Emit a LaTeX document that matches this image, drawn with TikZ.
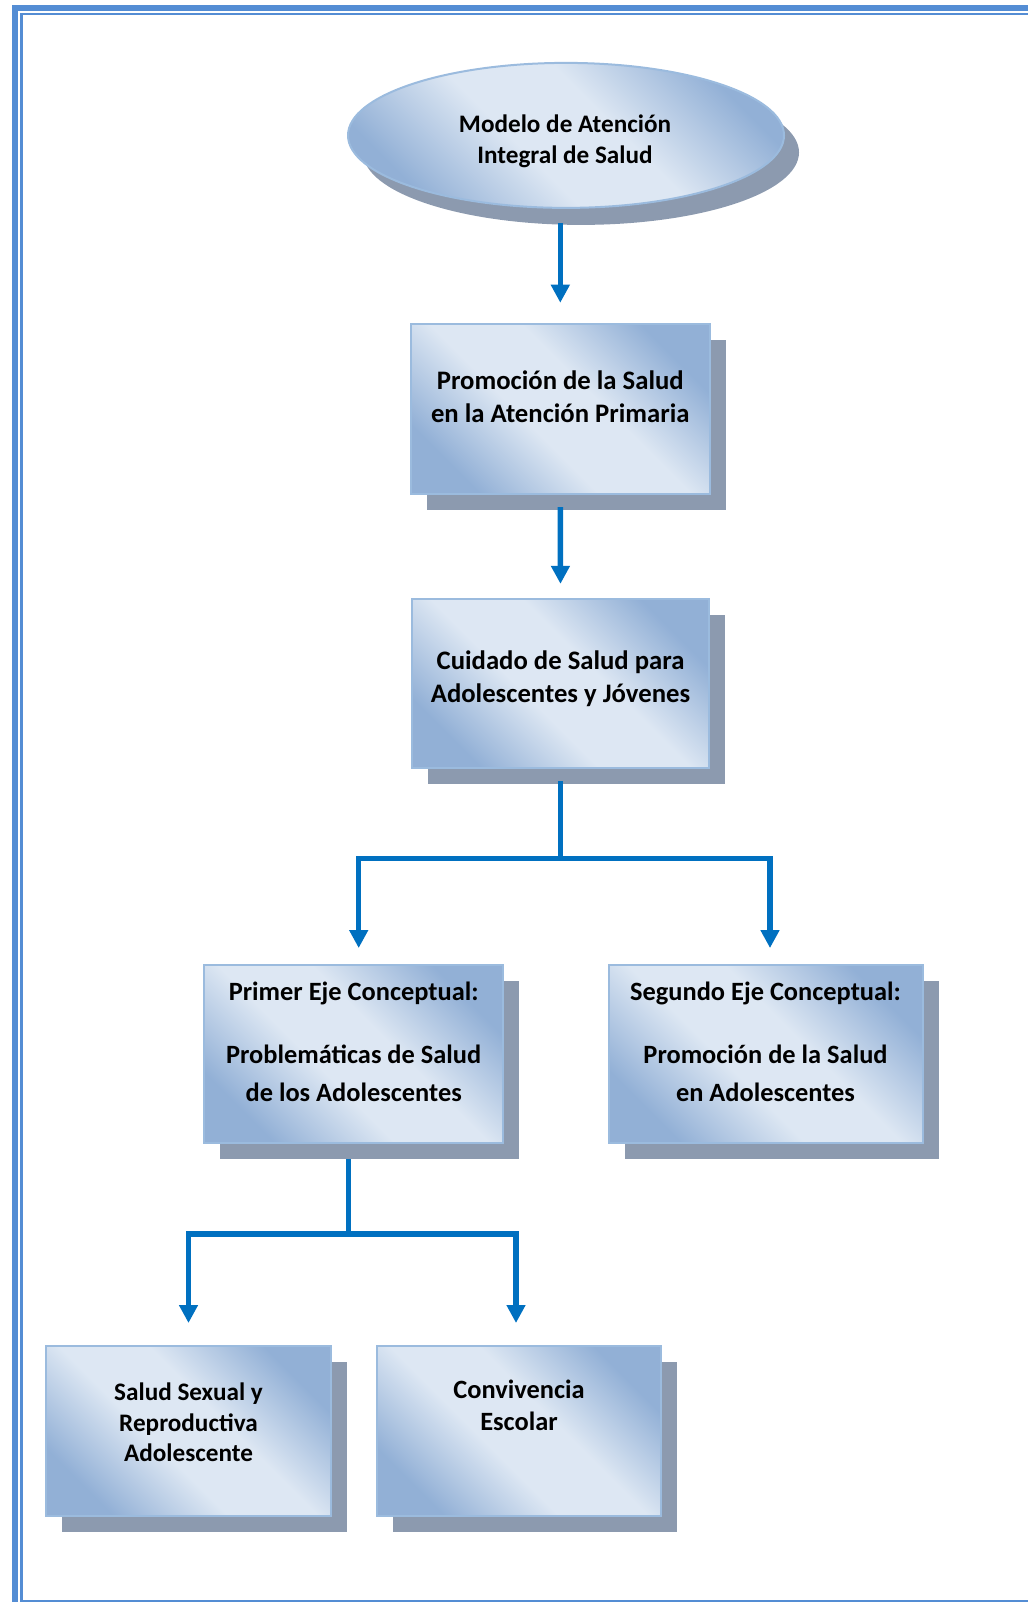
\documentclass[tikz,border=0pt]{standalone}
\usepackage{fontspec}
\setmainfont{Carlito}
\usetikzlibrary{arrows.meta,shapes.geometric,shadows,calc}
\definecolor{framecol}{RGB}{84,141,212}
\definecolor{bdark}{RGB}{146,176,214}
\definecolor{blight}{RGB}{221,231,243}
\definecolor{bedge}{RGB}{155,187,222}
\definecolor{shadowcol}{RGB}{140,154,175}
\definecolor{arrcol}{RGB}{0,112,192}
\pgfdeclareverticalshading{boxshade}{100bp}{color(0bp)=(bdark); color(25bp)=(bdark); color(43bp)=(blight); color(57bp)=(blight); color(75bp)=(bdark); color(100bp)=(bdark)}
\begin{document}
\begin{tikzpicture}[x=1pt,y=-1pt,
  fillshape/.style={draw=bedge, line width=2pt, inner sep=0pt,
    shading=boxshade, shading angle=-45},
  boxnode/.style={fillshape, rectangle,
    drop shadow={shadow xshift=16pt, shadow yshift=-16pt, fill=shadowcol, opacity=1}},
  ellnode/.style={fillshape, ellipse,
    drop shadow={shadow xshift=15pt, shadow yshift=-17pt, fill=shadowcol, opacity=1}},
  lbl/.style={align=center, inner sep=0pt, text=black},
  arr/.style={draw=arrcol, line width=5.5pt, -{Triangle[width=18pt,length=18pt]}},
  framebar/.style={fill=framecol, draw=none},
]
\useasboundingbox (0,0) rectangle (1028,1602);
% page frame
\fill[framebar] (11.7,4.7) rectangle (1028,11);
\fill[framebar] (11.7,4.7) rectangle (17.7,1602);
\fill[framebar] (20,12.7) rectangle (1028,15);
\fill[framebar] (20,12.7) rectangle (22.7,1602);
\fill[framebar] (20,1600.3) rectangle (1028,1602);

% shapes
\node[ellnode, minimum width=436pt, minimum height=145pt] (ell) at (566,135.4) {};
\node[boxnode, minimum width=298.7pt, minimum height=170.3pt] (b1) at (560.3,408.9) {};
\node[boxnode, minimum width=297.4pt, minimum height=168.7pt] (b2) at (560.5,683.2) {};
\node[boxnode, minimum width=298.6pt, minimum height=178.3pt] (b3) at (353.7,1054.2) {};
\node[boxnode, minimum width=314pt, minimum height=178.3pt] (b4) at (765.5,1054.2) {};
\node[boxnode, minimum width=285pt, minimum height=169.6pt] (b5) at (188.5,1430.8) {};
\node[boxnode, minimum width=284pt, minimum height=169.6pt] (b6) at (519,1430.8) {};

% texts
\node[lbl, font=\bfseries\fontsize{25.2}{31.7}\selectfont] (t0) at (565,141.8)
  {\strut Modelo de Atención\\\strut Integral de Salud};
\node[lbl, font=\bfseries\fontsize{26.7}{32.5}\selectfont] (t1) at (560.3,399.5)
  {\strut Promoción de la Salud\\\strut en la Atención Primaria};
\node[lbl, font=\bfseries\fontsize{26.7}{33.5}\selectfont] (t2) at (560.5,679.4)
  {\strut Cuidado de Salud para\\\strut Adolescentes y Jóvenes};
\node[lbl, font=\bfseries\fontsize{26.4}{37.8}\selectfont] (t3) at (353.7,1043.1)
  {\strut Primer Eje Conceptual:\\[25.6pt]\strut Problemáticas de Salud\\\strut de los Adolescentes};
\node[lbl, font=\bfseries\fontsize{26.4}{37.8}\selectfont] (t4) at (765.5,1043.1)
  {\strut Segundo Eje Conceptual:\\[25.6pt]\strut Promoción de la Salud\\\strut en Adolescentes};
\node[lbl, font=\bfseries\fontsize{25.2}{30.5}\selectfont] (t5) at (188.5,1425)
  {\strut Salud Sexual y\\\strut Reproductiva\\\strut Adolescente};
\node[lbl, font=\bfseries\fontsize{26.4}{31.5}\selectfont] (t6) at (519,1408.4)
  {\strut Convivencia\\\strut Escolar};

% connectors
\coordinate (j1) at (561,858.7);
\coordinate (j2) at (348.7,1234);
\draw[arr, shorten <=14pt, shorten >=20pt] (ell.south -| b1.north) -- (b1.north);
\draw[arr, shorten <=12pt, shorten >=14pt] (b1.south) -- (b2.north);
\draw[arr, shorten <=12.5pt, shorten >=16pt] (b2.south) |- (j1) -| ([xshift=5pt]b3.north);
\draw[arr, shorten <=12.5pt, shorten >=16pt] (b2.south) |- (j1) -| ([xshift=4.5pt]b4.north);
\draw[arr, shorten <=15pt, shorten >=22pt] ([xshift=-5pt]b3.south) |- (j2) -| (b5.north);
\draw[arr, shorten <=15pt, shorten >=22pt] ([xshift=-5pt]b3.south) |- (j2) -| ([xshift=-3pt]b6.north);
\end{tikzpicture}
\end{document}
